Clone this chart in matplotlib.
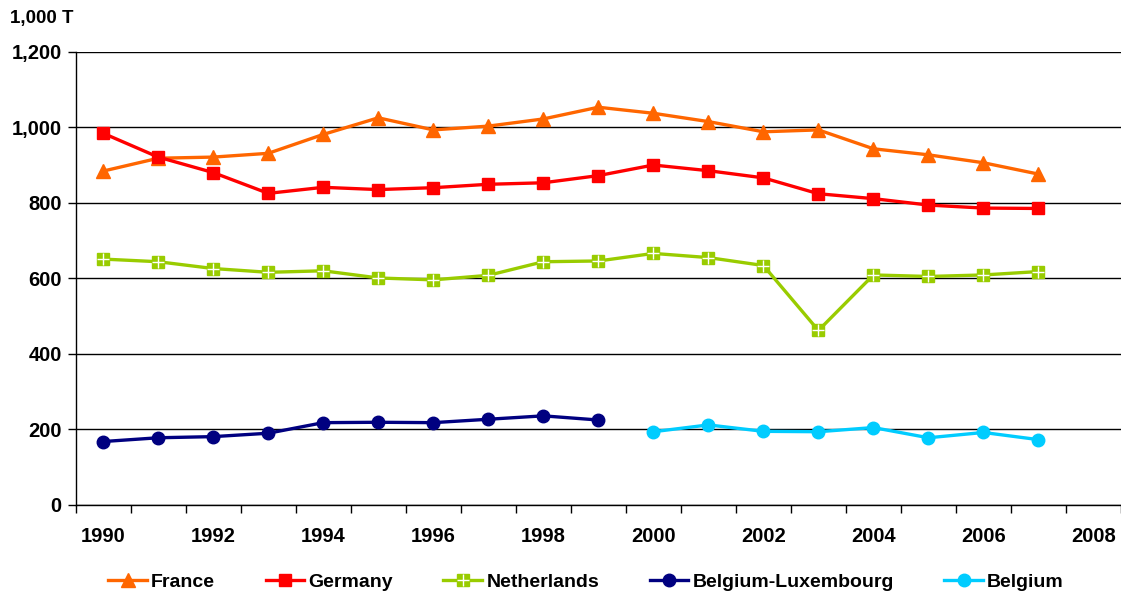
import matplotlib.pyplot as plt
from matplotlib.legend_handler import HandlerTuple
import numpy as np

plt.rcParams['font.family'] = ['Liberation Sans', 'DejaVu Sans']
plt.rcParams['font.weight'] = 'bold'

years = list(range(1990, 2009))

france = [884, 918, 921, 931, 981, 1025, 993, 1003, 1022, 1053,
          1037, 1015, 988, 993, 943, 927, 906, 876]
germany = [984, 921, 880, 825, 841, 835, 840, 849, 853, 872,
           900, 885, 866, 824, 811, 794, 786, 785]
netherlands = [651, 644, 626, 616, 620, 601, 596, 608, 644, 646,
               666, 655, 634, 462, 609, 605, 609, 618]
belgium_lux = [168, 178, 181, 190, 218, 219, 218, 227, 236, 225]
belgium = [194, 212, 195, 194, 205, 178, 192, 173]

fig = plt.figure(figsize=(11.21, 5.92), dpi=100)
ax = fig.add_axes([75.7 / 1121, 1 - 505 / 592, 1 - 75.7 / 1121, (505 - 51.7) / 592])

x_fr = np.arange(len(france))
x_bl = np.arange(len(belgium_lux))
x_be = np.arange(10, 10 + len(belgium))

lw = 2.4
ms = 9
h_fr, = ax.plot(x_fr, france, color='#FF6600', marker='^', ms=ms + 1, lw=lw, zorder=3)
h_de, = ax.plot(x_fr, germany, color='#FF0000', marker='s', ms=ms - 0.5, lw=lw, zorder=3)
h_nl, = ax.plot(x_fr, netherlands, color='#99CC00', marker='s', ms=ms - 0.5, lw=lw, zorder=3)
h_nl2, = ax.plot(x_fr, netherlands, color='white', marker='+', ms=ms - 0.5, mew=1.0, lw=0, zorder=4)
h_bl, = ax.plot(x_bl, belgium_lux, color='#000080', marker='o', ms=ms, lw=lw, zorder=3)
h_be, = ax.plot(x_be, belgium, color='#00CCFF', marker='o', ms=ms, lw=lw, zorder=3)

ax.set_xlim(-0.5, len(years) - 0.5)
ax.set_ylim(0, 1200)
ax.set_yticks(range(0, 1201, 200))
ax.set_yticklabels([f'{v:,}' for v in range(0, 1201, 200)], fontsize=14.5, fontweight='bold')
ax.yaxis.grid(True, color='black', lw=1)
ax.set_axisbelow(True)

ax.set_xticks(np.arange(-0.5, len(years), 1), minor=True)
ax.set_xticks(np.arange(0, len(years), 2))
ax.set_xticklabels([str(y) for y in years[::2]], fontsize=14.5, fontweight='bold')
ax.tick_params(axis='x', which='major', length=0, pad=16)
ax.tick_params(axis='x', which='minor', length=6, width=1, direction='out')
ax.tick_params(axis='y', length=6, width=1, direction='out', pad=4)

for s in ['top', 'right']:
    ax.spines[s].set_visible(False)
ax.spines['left'].set_linewidth(1)
ax.spines['bottom'].set_linewidth(1)

fig.text(10 / 1121, 1 - 18 / 592, '1,000 T', fontsize=13.5, fontweight='bold', va='center')

fig.legend([h_fr, h_de, (h_nl, h_nl2), h_bl, h_be],
           ['France', 'Germany', 'Netherlands', 'Belgium-Luxembourg', 'Belgium'],
           handler_map={tuple: HandlerTuple(ndivide=1, pad=0)},
           loc='center', bbox_to_anchor=(586 / 1121, 1 - 582 / 592), ncol=5,
           frameon=False, prop={'size': 14, 'weight': 'bold'},
           handlelength=2.0, columnspacing=2.6, handletextpad=0.2)

fig.savefig('out.png', dpi=100)
